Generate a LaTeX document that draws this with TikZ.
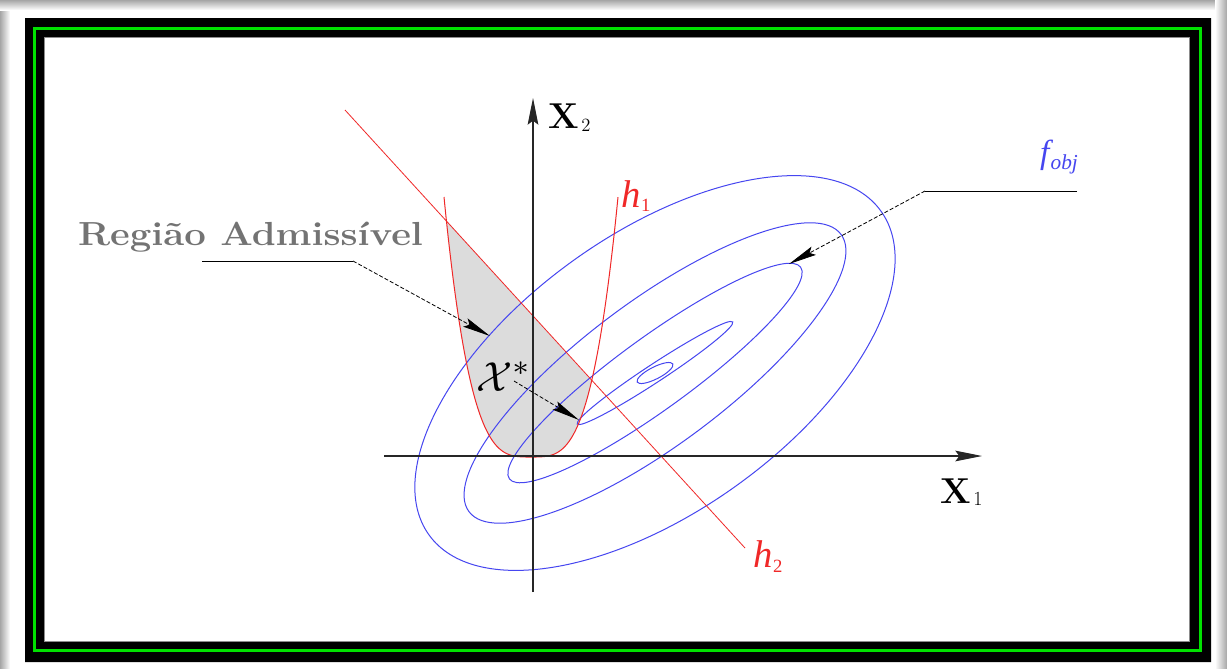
\documentclass[tikz,border=0pt]{standalone}
\usepackage{fontspec}
\usepackage{graphicx}
\newfontfamily\tnr{Liberation Serif}
\usetikzlibrary{arrows.meta}
\definecolor{cblue}{RGB}{70,70,240}
\definecolor{cred}{RGB}{240,40,40}
\definecolor{regfill}{RGB}{220,220,220}
\definecolor{frgreen}{RGB}{0,225,0}
\begin{document}
\begin{tikzpicture}[x=0.75pt,y=-0.75pt,
  axisline/.style={line width=0.8pt, black!85, -{Stealth[length=20pt,width=8pt,inset=3pt]}},
  leader/.style={line width=0.6pt, dash pattern=on 3pt off 1.5pt, -{Stealth[length=21pt,width=7pt,inset=3.5pt]}},
  leaderbar/.style={line width=0.7pt},
  contour/.style={cblue, line width=0.75pt},
  hcurve/.style={cred, line width=0.75pt},
  lbl/.style={anchor=base west, inner sep=0pt, outer sep=0pt},
]
\useasboundingbox (0,0) rectangle (1227,668);
% page and shadow
\fill[white] (0,0) rectangle (1227,668);
\shade[left color=black!35, right color=white] (0,0) rectangle (10,668);
\shade[top color=black!35, bottom color=white] (0,0) rectangle (1227,10);
\shade[left color=white, right color=black!35] (1215,0) rectangle (1227,668);
% frame
\fill[black, even odd rule] (25,18) rectangle (1211,662) (44,37) rectangle (1190,642);
\draw[frgreen, line width=1.9pt] (34.5,28.3) rectangle (1200.5,650.7);
\draw[black!45, line width=0.7pt] (44.5,37.5) rectangle (1189.5,641.5);
% admissible region
\fill[regfill] plot[domain=-84.6:60.7, samples=100, smooth] ({531+\x},{457-260*pow(abs(\x/87),3.4)}) -- cycle;
% contours of f_obj
\coordinate (C) at (655,373);
\foreach \a/\b/\t in {278/139/35.6, 232/72/36.7, 180/36/36, 93/9/33.3, 20/6/27}
  \draw[contour, rotate around={\t:(C)}] (C) ellipse [x radius=\a, y radius=\b];
% constraints
\draw[hcurve] plot[domain=-87:87, samples=120, smooth] ({531+\x},{457-260*pow(abs(\x/87),3.4)});
\coordinate (h2a) at (345,110);
\coordinate (h2b) at (745,548);
\draw[hcurve, line width=0.6pt] (h2a) -- (h2b);
% axes
\coordinate (x1s) at (384,456);
\coordinate (x1e) at (982,456);
\coordinate (x2s) at (533,592);
\coordinate (x2e) at (533,98);
\draw[axisline] (x1s) -- (x1e);
\draw[axisline] (x2s) -- (x2e);
% labels
\node[lbl] (X2) at (548,128) {\fontsize{27}{27}\selectfont\bfseries X\kern2pt\raisebox{-2.5pt}{\fontsize{14}{14}\selectfont\mdseries 2}};
\node[lbl] (X1) at (940,503) {\fontsize{27}{27}\selectfont\bfseries X\kern2pt\raisebox{-2pt}{\fontsize{15}{15}\selectfont\mdseries 1}};
\node[lbl, text=cred] (h1) at (621,207) {\tnr\fontsize{29}{29}\selectfont\itshape h\kern0.5pt\raisebox{-3pt}{\fontsize{14}{14}\selectfont\upshape 1}};
\node[lbl, text=cred] (h2) at (753,567) {\tnr\fontsize{29}{29}\selectfont\itshape h\kern0.5pt\raisebox{-4pt}{\fontsize{14}{14}\selectfont\upshape 2}};
\node[lbl, text=cblue] (fobj) at (1040,163) {\tnr\fontsize{25}{25}\selectfont\itshape f\kern1pt\raisebox{-5pt}{\fontsize{16}{16}\selectfont obj}};
\node[lbl] (xstar) at (476,391) {\scalebox{3.15}{$\mathcal{X}^*$}};
\node[lbl, text=black!55] (reg) at (78,245) {\scalebox{1.15}[1]{\fontsize{25}{25}\selectfont\bfseries Região Admissível}};
% leaders
\coordinate (ra) at (202,261);
\coordinate (rb) at (353,261);
\coordinate (rt) at (490,336);
\draw[leaderbar] (ra) -- (rb);
\draw[leader] (rb) -- (rt);
\coordinate (fa) at (1077,191);
\coordinate (fb) at (925,191);
\coordinate (ft) at (789,264);
\draw[leaderbar] (fa) -- (fb);
\draw[leader] (fb) -- (ft);
\coordinate (xa) at (514,381);
\coordinate (xt) at (579,420);
\draw[leader] (xa) -- (xt);
\end{tikzpicture}
\end{document}
